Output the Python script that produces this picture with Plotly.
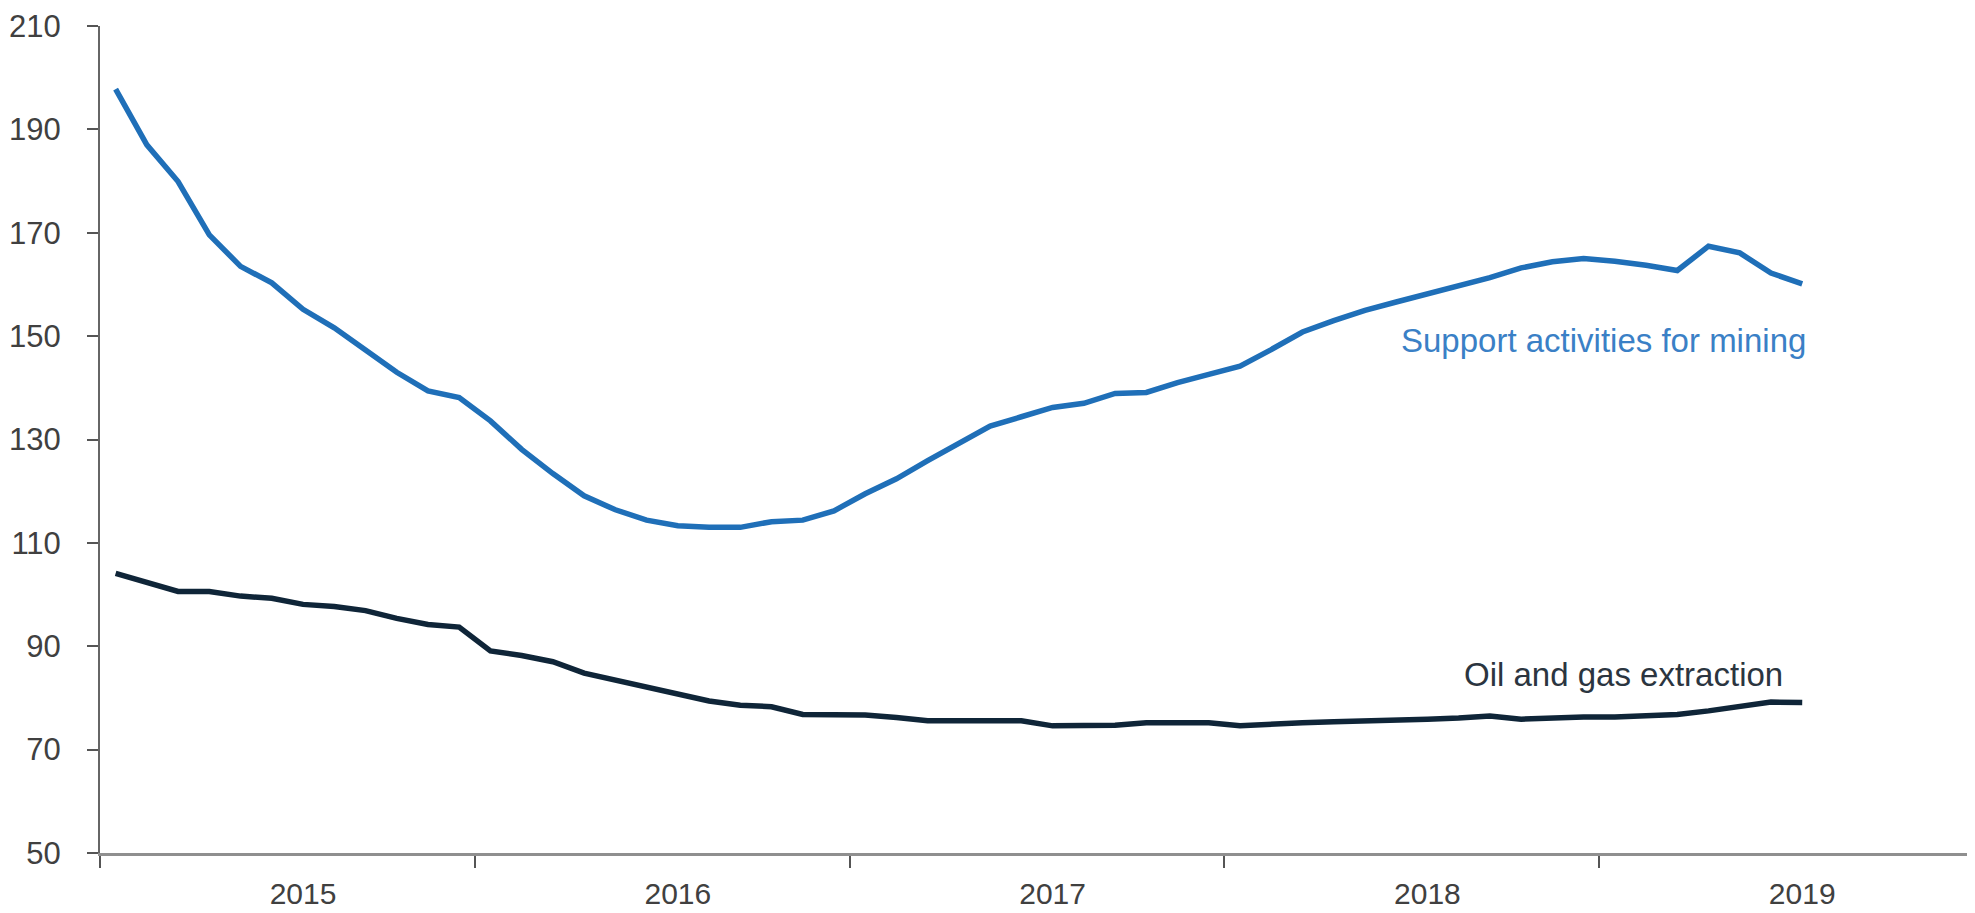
import plotly.graph_objects as go

# Monthly observations, Jul 2014 .. Jan 2019 (category positions 0..54)
months = [f"{y}-{m:02d}" for y in range(2014, 2020) for m in range(1, 13)][6:61]

support_mining = [197.8, 187.0, 179.9, 169.6, 163.5, 160.3, 155.2, 151.6, 147.3, 143.0,
                  139.4, 138.1, 133.6, 128.1, 123.4, 119.1, 116.4, 114.4, 113.3, 113.0,
                  113.0, 114.1, 114.4, 116.2, 119.5, 122.4, 125.9, 129.2, 132.6, 134.4,
                  136.2, 137.0, 138.9, 139.1, 141.0, 142.6, 144.2, 147.4, 150.8, 153.0,
                  155.0, 156.6, 158.2, 159.7, 161.3, 163.2, 164.4, 165.0, 164.5, 163.7,
                  162.7, 167.4, 166.1, 162.2, 160.1]

oil_gas = [104.1, 102.3, 100.6, 100.6, 99.7, 99.3, 98.1, 97.7, 96.9, 95.4,
           94.2, 93.7, 89.1, 88.2, 87.0, 84.8, 83.5, 82.1, 80.7, 79.4,
           78.6, 78.3, 76.8, 76.8, 76.7, 76.2, 75.6, 75.6, 75.6, 75.6,
           74.6, 74.6, 74.7, 75.2, 75.2, 75.2, 74.6, 75.0, 75.2, 75.4,
           75.5, 75.7, 75.9, 76.1, 76.5, 75.9, 76.2, 76.3, 76.3, 76.6,
           76.8, 77.5, 78.4, 79.2, 79.1]

year_labels = ["2015", "2016", "2017", "2018", "2019"]
year_label_pos = [months.index(f"{y}-01") for y in year_labels]
n_slots = 60
year_boundaries = [i - 0.5 for i in range(0, n_slots + 1, 12)]

y_ticks = [50, 70, 90, 110, 130, 150, 170, 190, 210]

x = list(range(len(months)))

FONT = "Liberation Sans, Arial, sans-serif"

fig = go.Figure()
fig.add_trace(go.Scatter(x=x, y=oil_gas, mode="lines", name="Oil and gas extraction",
                         line=dict(color="#0f2538", width=5.5), customdata=months,
                         hovertemplate="%{customdata}: %{y}<extra></extra>"))
fig.add_trace(go.Scatter(x=x, y=support_mining, mode="lines", name="Support activities for mining",
                         line=dict(color="#1f6fb8", width=5.5), customdata=months,
                         hovertemplate="%{customdata}: %{y}<extra></extra>"))

fig.add_annotation(x=41.1, y=149.1, xref="x", yref="y", text="Support activities for mining",
                   showarrow=False, xanchor="left", yanchor="middle",
                   font=dict(family=FONT, size=33, color="#3a80c6"))
fig.add_annotation(x=43.1, y=84.6, xref="x", yref="y", text="Oil and gas extraction",
                   showarrow=False, xanchor="left", yanchor="middle",
                   font=dict(family=FONT, size=33, color="#2b3540"))

fig.update_layout(
    width=1967, height=905,
    margin=dict(l=89, r=1, t=16, b=60),
    paper_bgcolor="white", plot_bgcolor="white",
    showlegend=False,
    font=dict(family=FONT, size=31, color="#404040"),
)
fig.update_xaxes(
    range=[-0.5, n_slots - 0.5],
    tickmode="array", tickvals=year_label_pos, ticktext=year_labels,
    ticks="", showgrid=False, zeroline=False,
    showline=True, linecolor="#8f8f8f", linewidth=3,
    ticklabelstandoff=12,
    tickfont=dict(size=30),
    minor=dict(tickmode="array", tickvals=year_boundaries, ticks="outside",
               ticklen=12, tickwidth=2, tickcolor="#555555", showgrid=False),
)
fig.update_yaxes(
    range=[50, 210], tickmode="array", tickvals=y_ticks,
    ticks="outside", ticklen=11, tickwidth=2, tickcolor="#555555",
    showgrid=False, zeroline=False,
    showline=True, linecolor="#666666", linewidth=2,
    ticklabelstandoff=20, ticklabeloverflow="allow",
)

fig.write_html("out.html")
